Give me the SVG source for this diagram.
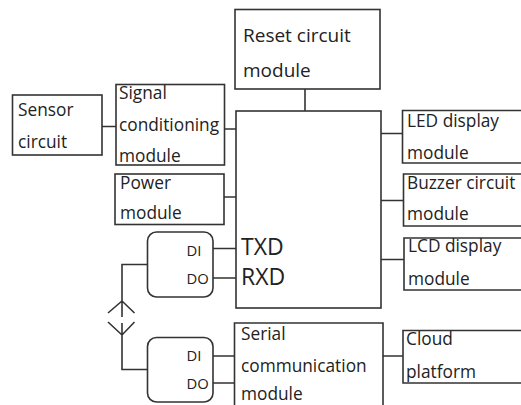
<svg xmlns="http://www.w3.org/2000/svg" width="521" height="405" viewBox="0 0 521 405">
<style>
.b{fill:#fff;stroke:#333;stroke-width:1.6}
.c{fill:none;stroke:#333;stroke-width:1.6}
text{font-family:"Open Sans","Noto Sans",sans-serif;font-size:17.300px;fill:#222}
.s{font-size:14.800px}
.l{font-size:23px}
.r{font-size:19px}
</style>
<rect width="521" height="405" fill="#fff"/>
<g id="connectors">
<path class="c" d="M305 89V111M102 126.500H116M224.500 129H236M224 197H236M381 133.500H402.500M381 200.500H403.500M381 259.500H404M213 248.500H236M213 278H236M147.500 264.500H122V317M122 323V369.500H147.500M108 313L122 301L134.500 313M108 322L122 335L134.500 322M213 356H235M213 383H235M383 356H403"/>
</g>
<g id="reset"><rect class="b" x="235" y="9.500" width="145" height="79.500"/><text class="r" x="243" y="41.500">Reset circuit</text><text class="r" x="243" y="76.500">module</text></g>
<g id="sensor"><rect class="b" x="12.500" y="95" width="89.500" height="60"/><text x="18" y="116">Sensor</text><text x="18" y="148">circuit</text></g>
<g id="signal"><rect class="b" x="116" y="84.500" width="108.500" height="80.500"/><text x="119" y="98.500">Signal</text><text x="119" y="130.500">conditioning</text><text x="119" y="162">module</text></g>
<g id="power"><rect class="b" x="115" y="174" width="109" height="50.500"/><text x="120" y="189">Power</text><text x="120" y="219">module</text></g>
<g id="mcu"><rect class="b" x="236" y="111" width="145" height="197"/><text class="l" x="241" y="255">TXD</text><text class="l" x="241" y="285">RXD</text></g>
<g id="led"><path class="b" d="M522 110.500H402.500V163H522"/><text x="407" y="127">LED display</text><text x="407" y="158.500">module</text></g>
<g id="buzzer"><path class="b" d="M522 174H403.500V226H522"/><text x="407" y="189">Buzzer circuit</text><text x="407" y="220">module</text></g>
<g id="lcd"><path class="b" d="M522 238H404V290H522"/><text x="408" y="252">LCD display</text><text x="408" y="284.500">module</text></g>
<g id="serial"><path class="b" d="M234.500 406V323H383V406"/><text x="241" y="340">Serial</text><text x="241" y="372">communication</text><text x="241" y="400">module</text></g>
<g id="cloud"><path class="b" d="M522 330.500H403V383H522"/><text x="406" y="345">Cloud</text><text x="406" y="377.500">platform</text></g>
<g id="t1"><rect class="b" x="147.500" y="232" width="65.500" height="65" rx="9"/><text class="s" x="186.500" y="256">DI</text><text class="s" x="186.500" y="284">DO</text></g>
<g id="t2"><rect class="b" x="147.500" y="337.500" width="65.500" height="64.500" rx="9"/><text class="s" x="186.500" y="361">DI</text><text class="s" x="186.500" y="389">DO</text></g>
</svg>
